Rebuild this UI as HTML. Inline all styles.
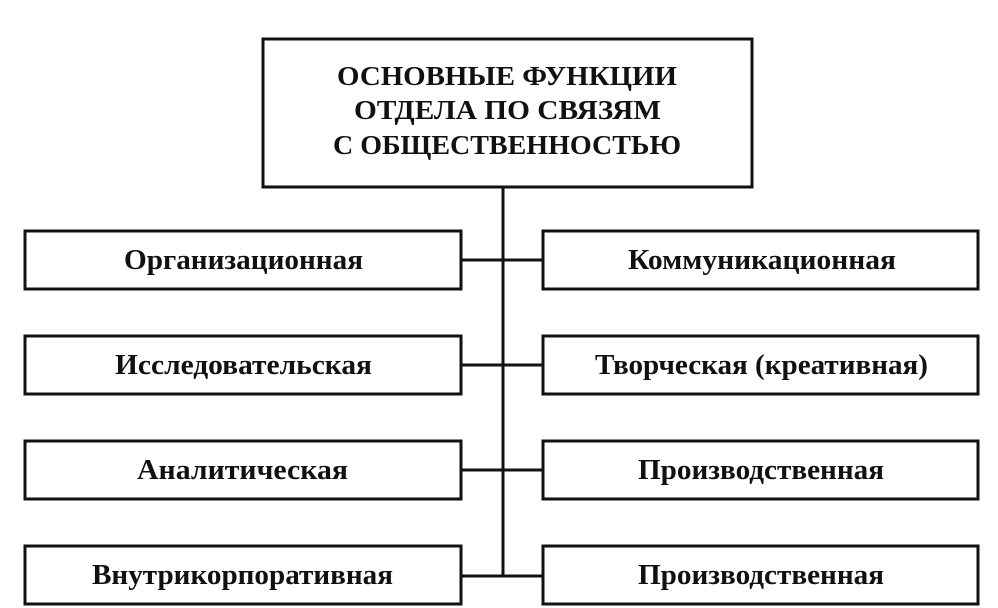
<!DOCTYPE html>
<html><head><meta charset="utf-8"><style>body{margin:0;background:#fff}svg{display:block}</style></head>
<body>
<svg width="998" height="608" viewBox="0 0 998 608" xmlns="http://www.w3.org/2000/svg" font-family="'Liberation Serif','DejaVu Serif',serif" font-weight="bold" fill="#111">
<g stroke="#111" stroke-width="3" fill="none">
<rect x="263" y="39" width="489" height="148"/>
<line x1="503" y1="187" x2="503" y2="576"/>
<rect x="25" y="231" width="436" height="58"/>
<rect x="543" y="231" width="435" height="58"/>
<rect x="25" y="336" width="436" height="58"/>
<rect x="543" y="336" width="435" height="58"/>
<rect x="25" y="441" width="436" height="58"/>
<rect x="543" y="441" width="435" height="58"/>
<rect x="25" y="546" width="436" height="58"/>
<rect x="543" y="546" width="435" height="58"/>
<line x1="461" y1="260" x2="543" y2="260"/>
<line x1="461" y1="365" x2="543" y2="365"/>
<line x1="461" y1="470" x2="543" y2="470"/>
<line x1="461" y1="576" x2="543" y2="576"/>
</g>
<g font-size="27" stroke="none">
<text x="337" y="85" textLength="340" lengthAdjust="spacingAndGlyphs">ОСНОВНЫЕ ФУНКЦИИ</text>
<text x="354" y="119" textLength="307" lengthAdjust="spacingAndGlyphs">ОТДЕЛА ПО СВЯЗЯМ</text>
<text x="333" y="154" textLength="348" lengthAdjust="spacingAndGlyphs">С ОБЩЕСТВЕННОСТЬЮ</text>
</g>
<g font-size="29" stroke="none">
<text x="124" y="269" textLength="239" lengthAdjust="spacingAndGlyphs">Организационная</text>
<text x="628" y="269" textLength="268" lengthAdjust="spacingAndGlyphs">Коммуникационная</text>
<text x="115" y="374" textLength="257" lengthAdjust="spacingAndGlyphs">Исследовательская</text>
<text x="595" y="374" textLength="333" lengthAdjust="spacingAndGlyphs">Творческая (креативная)</text>
<text x="137" y="479" textLength="211" lengthAdjust="spacingAndGlyphs">Аналитическая</text>
<text x="638" y="479" textLength="246" lengthAdjust="spacingAndGlyphs">Производственная</text>
<text x="92" y="584" textLength="301" lengthAdjust="spacingAndGlyphs">Внутрикорпоративная</text>
<text x="638" y="584" textLength="246" lengthAdjust="spacingAndGlyphs">Производственная</text>
</g>
</svg>
</body></html>
